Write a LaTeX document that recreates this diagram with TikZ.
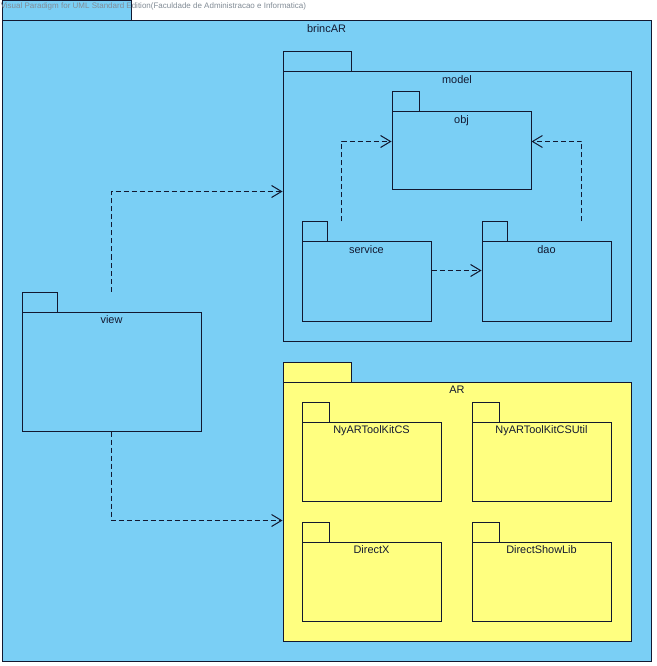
\documentclass[tikz,border=0pt]{standalone}
\usepackage{fontspec}
\setmainfont{Liberation Sans}
\usetikzlibrary{arrows.meta,calc,fit}

\definecolor{pkgblue}{RGB}{122,207,245}
\definecolor{pkgyellow}{RGB}{255,255,128}
\definecolor{pkgline}{RGB}{18,24,48}
\definecolor{marktext}{RGB}{130,140,150}

\tikzset{
  pkgshape/.style={draw=pkgline, line width=0.75pt, inner sep=0pt, rectangle},
  pkglabel/.style={anchor=north, inner sep=3pt, text=pkgline,
                   font=\fontsize{8.2pt}{9pt}\selectfont},
  depends/.style={draw=pkgline, line width=0.75pt, dash pattern=on 3.75pt off 2.25pt,
                  -{Straight Barb[length=7.5pt,width=9pt]}},
}

% UML package: #1 name, #2 fill, #3 left, #4 tab top, #5 tab right,
% #6 body top, #7 right, #8 bottom, #9 caption
\newcommand\pkgbox[9]{%
  \node[pkgshape, fill=#2, fit={(#3,#4) (#5,#6)}] (#1tab) {};
  \node[pkgshape, fill=#2, fit={(#3,#6) (#7,#8)},
        label={[pkglabel]north:#9}] (#1) {};
}

\begin{document}
\begin{tikzpicture}[x=0.75pt,y=-0.75pt]
  \useasboundingbox (0,0) rectangle (656,666);
  \fill[white] (0,0) rectangle (656,666);

  % outer package
  \pkgbox{brincAR}{pkgblue}{2}{1}{131}{21}{651}{661}{brincAR}

  % model and its sub-packages
  \pkgbox{model}{pkgblue}{283}{52}{351}{72}{631}{341}{model}
  \pkgbox{obj}{pkgblue}{392}{92}{419}{112}{531}{190}{obj}
  \pkgbox{service}{pkgblue}{302}{222}{327}{242}{431}{321}{service}
  \pkgbox{dao}{pkgblue}{482}{222}{507}{242}{611}{321}{dao}

  % view
  \pkgbox{view}{pkgblue}{22}{292}{57}{312}{201}{431}{view}

  % AR and its sub-packages
  \pkgbox{AR}{pkgyellow}{283}{362}{351}{382}{631}{641}{AR}
  \pkgbox{nyar}{pkgyellow}{302}{402}{329}{422}{441}{501}{NyARToolKitCS}
  \pkgbox{nyarutil}{pkgyellow}{472}{402}{499}{422}{611}{501}{NyARToolKitCSUtil}
  \pkgbox{directx}{pkgyellow}{302}{522}{329}{542}{441}{621}{DirectX}
  \pkgbox{dshow}{pkgyellow}{472}{522}{499}{542}{611}{621}{DirectShowLib}

  % dependencies
  \draw[depends] (view.north |- viewtab.north) |- ($(model.north west)+(0,120)$);
  \draw[depends] (view.south) |- ($(AR.north west)+(0,139)$);
  \draw[depends] ($(servicetab.north west)+(40,0)$) |- ($(obj.north west)+(0,30)$);
  \draw[depends] ($(daotab.north west)+(100,0)$) |- ($(obj.north east)+(0,30)$);
  \draw[depends] ($(service.north east)+(0,29)$) -- ($(dao.north west)+(0,29)$);

  % editor watermark
  \node[anchor=west, inner sep=0pt, text=marktext,
        font=\fontsize{6.0pt}{6.5pt}\selectfont] (mark) at (0.5,6)
    {Visual Paradigm for UML Standard Edition(Faculdade de Administracao e Informatica)};
\end{tikzpicture}
\end{document}
